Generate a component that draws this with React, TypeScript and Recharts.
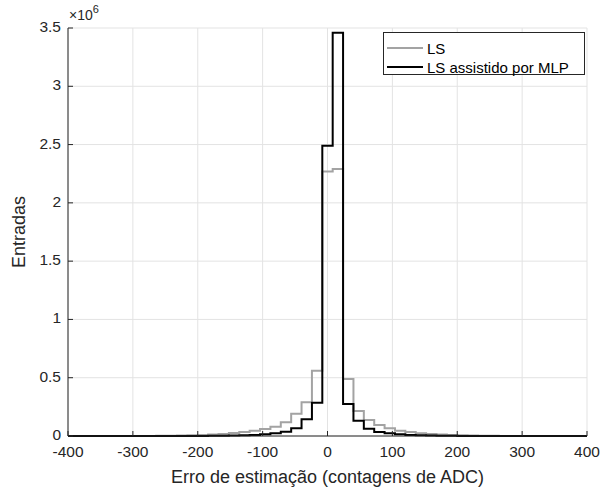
import { LineChart, Line, XAxis, YAxis, CartesianGrid, Label } from 'recharts'

// bin edges (stairs histogram, value holds until the next edge)
const binEdges = [
  -400, -264, -248, -232, -216, -200, -184, -168, -152, -136, -120, -104, -88, -72, -56, -40, -24,
  -8, 8, 24, 40, 56, 72, 88, 104, 120, 136, 152, 168, 184, 200, 216, 232, 248, 264, 400,
]
const lsCounts = [
  0, 1500, 2500, 4000, 6000, 9000, 13000, 18000, 25000, 34000, 45000, 60000, 80000, 117000, 190000, 290000, 560000,
  2270000, 2290000, 489000, 214000, 137000, 94000, 66000, 45000, 34000, 23000, 17000, 12000, 9000, 6000, 4000, 3000, 2000, 0, 0,
]
const mlpCounts = [
  0, 0, 0, 300, 500, 1000, 1500, 2500, 4000, 6000, 9000, 14000, 23000, 37000, 66000, 143000, 286000,
  2490000, 3460000, 274000, 131000, 63000, 34000, 23000, 14000, 9000, 6000, 4000, 2500, 1500, 1000, 500, 300, 0, 0, 0,
]
const xTicks = [-400, -300, -200, -100, 0, 100, 200, 300, 400]
const yTicks = [0, 500000, 1000000, 1500000, 2000000, 2500000, 3000000, 3500000]

const data = binEdges.map((x, i) => ({ x, ls: lsCounts[i], mlp: mlpCounts[i] }))

const AXIS = '#262626'
const FONT = '"Liberation Sans", Arial, sans-serif'

const BottomTick = (props: any) => {
  const { x, y, payload } = props
  return (
    <g>
      <line x1={x} y1={y} x2={x} y2={y - 5} stroke={AXIS} />
      <text x={x} y={y + 21} textAnchor="middle" fontSize={15.5} fill={AXIS} fontFamily={FONT}>
        {payload.value}
      </text>
    </g>
  )
}

const TopTick = (props: any) => {
  const { x, y } = props
  return <line x1={x} y1={y} x2={x} y2={y + 5} stroke={AXIS} />
}

const LeftTick = (props: any) => {
  const { x, y, payload } = props
  return (
    <g>
      <line x1={x} y1={y} x2={x + 5} y2={y} stroke={AXIS} />
      <text x={x - 7} y={y + 4} textAnchor="end" fontSize={15.5} fill={AXIS} fontFamily={FONT}>
        {String(payload.value / 1e6)}
      </text>
    </g>
  )
}

const RightTick = (props: any) => {
  const { x, y } = props
  return <line x1={x} y1={y} x2={x - 5} y2={y} stroke={AXIS} />
}

export default function App() {
  return (
    <div style={{ position: 'absolute', left: 0, top: 0, width: 610, height: 489, background: '#fff', fontFamily: FONT }}>
      <LineChart width={610} height={489} data={data} margin={{ top: 28, right: 23, bottom: 0, left: 0 }}>
        <CartesianGrid stroke="#e3e3e3" />
        <XAxis
          dataKey="x"
          type="number"
          domain={[-400, 400]}
          ticks={xTicks}
          interval={0}
          height={53}
          tickSize={0}
          tickMargin={0}
          tickLine={false}
          axisLine={{ stroke: AXIS }}
          tick={<BottomTick />}
        >
          <Label
            value="Erro de estimação (contagens de ADC)"
            position="insideBottom"
            offset={6}
            style={{ fontSize: 18, fill: AXIS, fontFamily: FONT }}
          />
        </XAxis>
        <XAxis
          xAxisId="top"
          orientation="top"
          dataKey="x"
          type="number"
          domain={[-400, 400]}
          ticks={xTicks}
          interval={0}
          height={0}
          tickSize={0}
          tickMargin={0}
          tickLine={false}
          axisLine={{ stroke: AXIS }}
          tick={<TopTick />}
        />
        <YAxis
          type="number"
          domain={[0, 3500000]}
          ticks={yTicks}
          interval={0}
          width={68}
          tickSize={0}
          tickMargin={0}
          tickLine={false}
          axisLine={{ stroke: AXIS }}
          tick={<LeftTick />}
        >
          <Label
            value="Entradas"
            angle={-90}
            position="insideLeft"
            offset={19}
            style={{ textAnchor: 'middle', fontSize: 18, fill: AXIS, fontFamily: FONT }}
          />
        </YAxis>
        <YAxis
          yAxisId="right"
          orientation="right"
          type="number"
          domain={[0, 3500000]}
          ticks={yTicks}
          interval={0}
          width={0}
          tickSize={0}
          tickMargin={0}
          tickLine={false}
          axisLine={{ stroke: AXIS }}
          tick={<RightTick />}
        />
        <Line
          type="stepAfter"
          dataKey="ls"
          stroke="#a3a3a3"
          strokeWidth={2}
          dot={false}
          isAnimationActive={false}
        />
        <Line
          type="stepAfter"
          dataKey="mlp"
          stroke="#000"
          strokeWidth={2}
          dot={false}
          isAnimationActive={false}
        />
      </LineChart>

      <div style={{ position: 'absolute', left: 69, top: 7, fontSize: 14, color: AXIS }}>
        ×10<sup style={{ fontSize: 11, verticalAlign: 'top', position: 'relative', top: -4 }}>6</sup>
      </div>

      <div
        style={{
          position: 'absolute',
          left: 383,
          top: 32,
          width: 200,
          height: 41,
          border: `1px solid ${AXIS}`,
          background: '#fff',
          fontSize: 15,
          color: '#000',
        }}
      >
        {[
          { name: 'LS', color: '#a3a3a3' },
          { name: 'LS assistido por MLP', color: '#000' },
        ].map((item, i) => (
          <div key={item.name} style={{ position: 'absolute', left: 3, top: 6 + i * 19, height: 18, display: 'flex', alignItems: 'center' }}>
            <span style={{ display: 'inline-block', width: 36, height: 2, background: item.color, marginRight: 4 }} />
            <span>{item.name}</span>
          </div>
        ))}
      </div>
    </div>
  )
}
